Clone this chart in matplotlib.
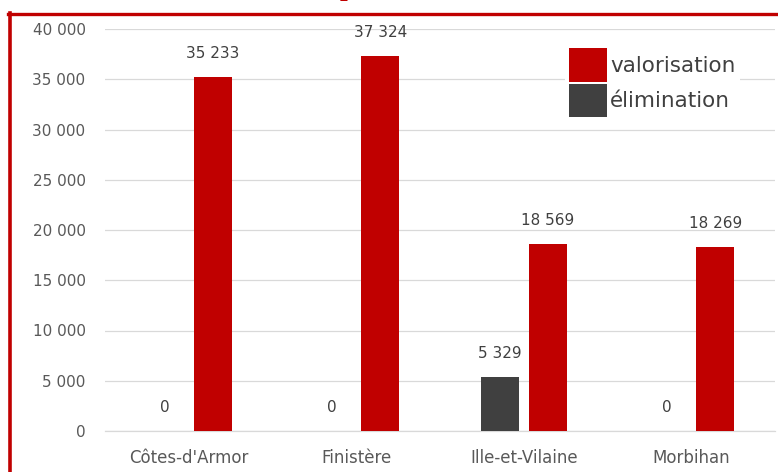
import matplotlib
matplotlib.use('Agg')
import matplotlib.pyplot as plt
from matplotlib.lines import Line2D
from matplotlib.patches import Patch
import numpy as np

# data
regions = ["Côtes-d'Armor", "Finistère", "Ille-et-Vilaine", "Morbihan"]
elimination = [0, 0, 5329, 0]
valorisation = [35233, 37324, 18569, 18269]
yticks = [0, 5000, 10000, 15000, 20000, 25000, 30000, 35000, 40000]

red = '#C00000'
dark = '#404040'
grey_txt = '#595959'

plt.rcParams['font.family'] = ['DejaVu Sans']


def fmt(v):
    return f'{v:,}'.replace(',', ' ')


W, H = 778, 472
fig = plt.figure(figsize=(W / 100, H / 100), dpi=100)
ax = fig.add_axes([105 / W, 1 - 431 / H, 670 / W, 402 / H])

x = np.arange(len(regions))
width = 0.227
off = 0.143
b1 = ax.bar(x - off, elimination, width, color=dark, zorder=3)
b2 = ax.bar(x + off, valorisation, width, color=red, zorder=3)

# value labels above bars
for bars, vals in ((b1, elimination), (b2, valorisation)):
    for rect, v in zip(bars, vals):
        ax.annotate(fmt(v), (rect.get_x() + rect.get_width() / 2, v),
                    xytext=(0, 17), textcoords='offset points',
                    ha='center', va='center', fontsize=11, color=dark,
                    zorder=5)

ax.set_xlim(-0.5, len(regions) - 0.5)
ax.set_ylim(0, 40000)
ax.set_yticks(yticks)
ax.set_yticklabels([fmt(v) for v in yticks])
ax.set_xticks(x)
ax.set_xticklabels(regions, fontsize=12)
ax.tick_params(axis='y', length=0, pad=14, labelsize=11, labelcolor=grey_txt)
ax.tick_params(axis='x', length=0, pad=13, labelcolor=grey_txt)

ax.grid(axis='y', color='#D9D9D9', lw=0.9, zorder=0)
for s in ('top', 'right', 'left'):
    ax.spines[s].set_visible(False)
ax.spines['bottom'].set_color('#D9D9D9')
ax.spines['bottom'].set_linewidth(0.9)

handles = [Patch(facecolor=red, edgecolor='none'),
           Patch(facecolor=dark, edgecolor='none')]
leg = fig.legend(handles, ['valorisation', 'élimination'],
                 loc='upper left', bbox_to_anchor=(565 / W, 1 - 44 / H),
                 fontsize=15.5, frameon=True, fancybox=False,
                 borderpad=0.2, borderaxespad=0, labelspacing=0.1,
                 handlelength=1.75, handleheight=2.0, handletextpad=0.15,
                 labelcolor=dark)
leg.get_frame().set_facecolor('white')
leg.get_frame().set_edgecolor('none')
leg.get_frame().set_alpha(1)
leg.set_zorder(10)

# red frame around the chart and the cut-off title
fig.add_artist(Line2D([8 / W, 1], [1 - 14 / H] * 2, color=red, lw=2.4,
                      transform=fig.transFigure))
fig.add_artist(Line2D([10 / W] * 2, [0, 1 - 12.5 / H], color=red, lw=2.6,
                      transform=fig.transFigure))
fig.text(347 / W, 1 + 5 / H, 'p', color=red, fontfamily='Liberation Serif',
         fontweight='bold', fontsize=20, ha='center', va='baseline')

fig.savefig('out.png', dpi=100)
